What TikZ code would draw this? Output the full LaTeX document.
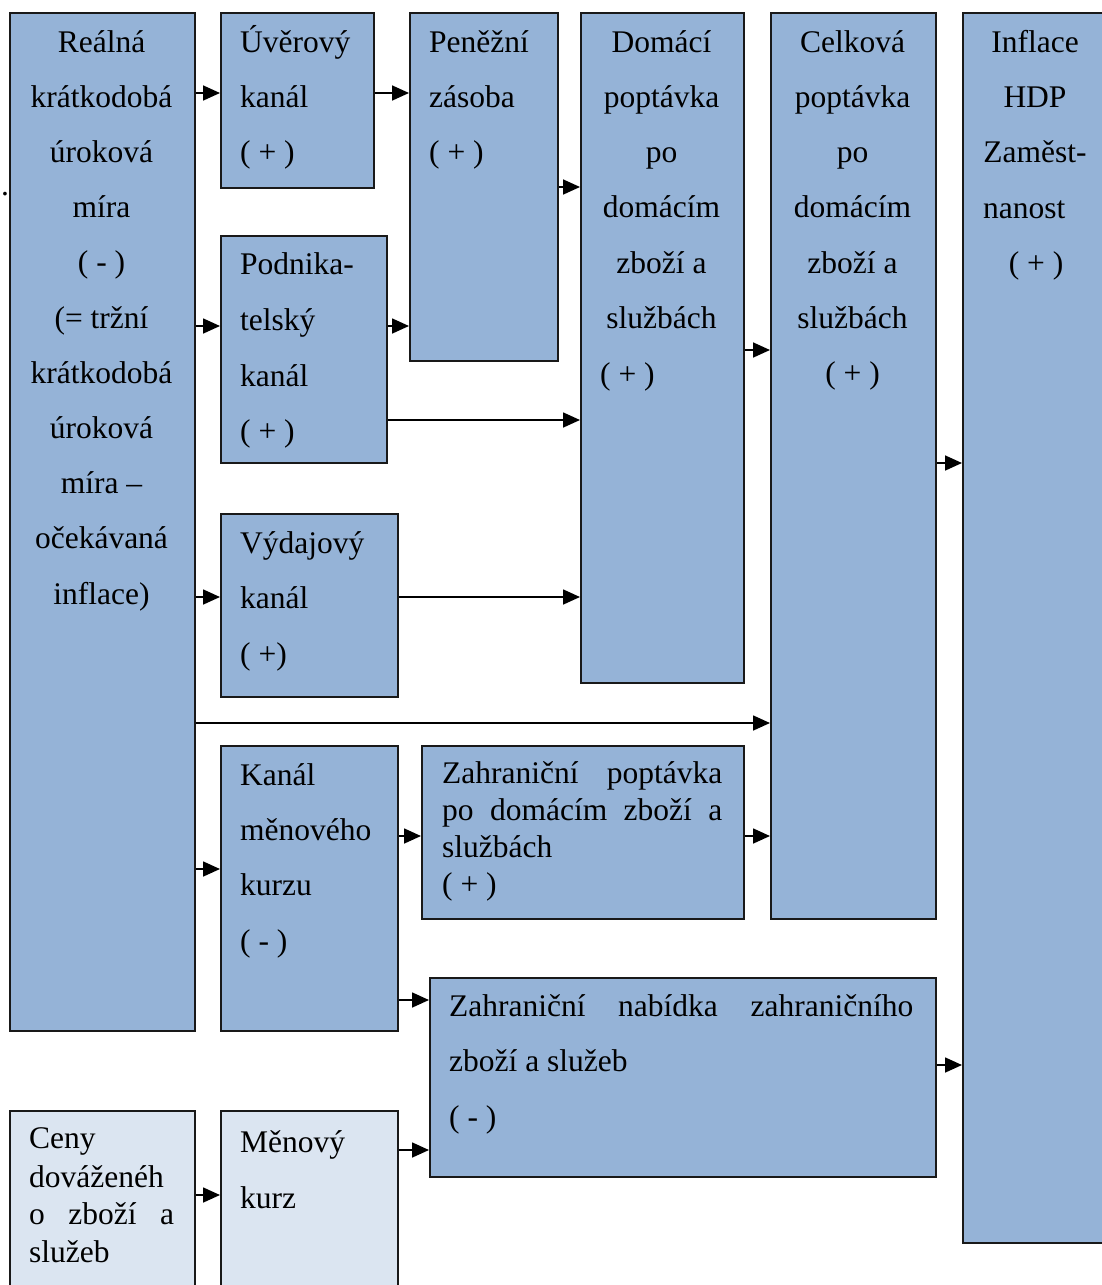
\documentclass[tikz,border=0pt]{standalone}
\usepackage{fontspec}
\setmainfont{Liberation Serif}
\usetikzlibrary{arrows.meta}
\definecolor{boxblue}{HTML}{95B3D7}
\definecolor{boxlight}{HTML}{DBE5F1}
\begin{document}
\begin{tikzpicture}[x=1pt,y=-1pt,
  box/.style={draw=black!90,line width=1.8pt,fill=boxblue,inner sep=0pt,anchor=north west,rectangle},
  lbox/.style={box,fill=boxlight},
  txt/.style={inner sep=0pt,font=\fontsize{31.5pt}{38pt}\selectfont},
  tl/.style={txt,anchor=base west},
  tc/.style={txt,anchor=base},
  conn/.style={draw=black,line width=1.7pt,-{Triangle[length=17pt,width=15pt]}}]
\useasboundingbox (0,0) rectangle (1102,1285);
\clip (0,0) rectangle (1102,1285);
% boxes
\node[box,minimum width=185pt,minimum height=1018pt] (real) at (9,12) {};
\node[box,minimum width=153pt,minimum height=175pt] (uver) at (220,12) {};
\node[box,minimum width=148pt,minimum height=348pt] (pen) at (409,12) {};
\node[box,minimum width=163pt,minimum height=670pt] (dom) at (580,12) {};
\node[box,minimum width=165pt,minimum height=906pt] (celk) at (770,12) {};
\node[box,minimum width=170pt,minimum height=1230pt] (infl) at (962,12) {};
\node[box,minimum width=166pt,minimum height=227pt] (pod) at (220,235) {};
\node[box,minimum width=177pt,minimum height=183pt] (vyd) at (220,513) {};
\node[box,minimum width=177pt,minimum height=285pt] (kan) at (220,745) {};
\node[box,minimum width=322pt,minimum height=173pt] (zpop) at (421,745) {};
\node[box,minimum width=506pt,minimum height=199pt] (znab) at (429,977) {};
\node[lbox,minimum width=185pt,minimum height=200pt] (ceny) at (9,1110) {};
\node[lbox,minimum width=177pt,minimum height=200pt] (men) at (220,1110) {};
% stray dot
\node[tc] (dot) at (5,195) {.};
% texts
\foreach \t [count=\i] in {{Reálná},{krátkodobá},{úroková},{míra},{( - )},{(= tržní},{krátkodobá},{úroková},{míra –},{očekávaná},{inflace)}}
  \node[tc] (real-\i) at (101.5,{52+55.2*(\i-1)}) {\t};
\foreach \t [count=\i] in {{Úvěrový},{kanál},{( + )}}
  \node[tl] (uver-\i) at (240,{52+55.3*(\i-1)}) {\t};
\foreach \t [count=\i] in {{Peněžní},{zásoba},{( + )}}
  \node[tl] (pen-\i) at (429,{52+55.3*(\i-1)}) {\t};
\foreach \t [count=\i] in {{Domácí},{poptávka},{po},{domácím},{zboží a},{službách}}
  \node[tc] (dom-\i) at (661.5,{52+55.3*(\i-1)}) {\t};
\node[tl] (dom-7) at (600,384) {( + )};
\foreach \t [count=\i] in {{Celková},{poptávka},{po},{domácím},{zboží a},{službách},{( + )}}
  \node[tc] (celk-\i) at (852.5,{52+55.3*(\i-1)}) {\t};
\foreach \t [count=\i] in {{Inflace},{HDP},{Zaměst-}}
  \node[tc] (infl-\i) at (1035,{52+55.3*(\i-1)}) {\t};
\node[tl] (infl-4) at (983,218) {nanost};
\node[tc] (infl-5) at (1036,273) {( + )};
\node[tl] (pod-1) at (240,274) {Podnika-};
\node[tl] (pod-2) at (240,330) {telský};
\node[tl] (pod-3) at (240,386) {kanál};
\node[tl] (pod-4) at (240,441) {( + )};
\node[tl] (vyd-1) at (240,553) {Výdajový};
\node[tl] (vyd-2) at (240,608) {kanál};
\node[tl] (vyd-3) at (240,664) {( +)};
\node[tl] (kan-1) at (240,785) {Kanál};
\node[tl] (kan-2) at (240,840) {měnového};
\node[tl] (kan-3) at (240,895) {kurzu};
\node[tl] (kan-4) at (240,951) {( - )};
\node[tl] (zpop-1) at (442,783) {\makebox[280pt][s]{Zahraniční poptávka}};
\node[tl] (zpop-2) at (442,820) {\makebox[280pt][s]{po domácím zboží a}};
\node[tl] (zpop-3) at (442,857) {službách};
\node[tl] (zpop-4) at (442,894) {( + )};
\node[tl] (znab-1) at (449,1016) {\makebox[464pt][s]{Zahraniční nabídka zahraničního}};
\node[tl] (znab-2) at (449,1071) {zboží a služeb};
\node[tl] (znab-3) at (449,1127) {( - )};
\node[tl] (ceny-1) at (29,1148) {Ceny};
\node[tl] (ceny-2) at (29,1187) {dováženéh};
\node[tl] (ceny-3) at (29,1224) {\makebox[145pt][s]{o zboží a}};
\node[tl] (ceny-4) at (29,1262) {služeb};
\node[tl] (men-1) at (240,1152) {Měnový};
\node[tl] (men-2) at (240,1208) {kurz};
% connector heights
\coordinate (h93) at (0,93);
\coordinate (h187) at (0,187);
\coordinate (h326) at (0,326);
\coordinate (h420) at (0,420);
\coordinate (h597) at (0,597);
\coordinate (h350) at (0,350);
\coordinate (h723) at (0,723);
\coordinate (h869) at (0,869);
\coordinate (h836) at (0,836);
\coordinate (h1000) at (0,1000);
\coordinate (h463) at (0,463);
\coordinate (h1065) at (0,1065);
\coordinate (h1195) at (0,1195);
\coordinate (h1150) at (0,1150);
% connectors
\draw[conn] (real.east |- h93) -- (uver.west |- h93);
\draw[conn] (uver.east |- h93) -- (pen.west |- h93);
\draw[conn] (pen.east |- h187) -- (dom.west |- h187);
\draw[conn] (real.east |- h326) -- (pod.west |- h326);
\draw[conn] (pod.east |- h326) -- (pen.west |- h326);
\draw[conn] (pod.east |- h420) -- (dom.west |- h420);
\draw[conn] (real.east |- h597) -- (vyd.west |- h597);
\draw[conn] (vyd.east |- h597) -- (dom.west |- h597);
\draw[conn] (dom.east |- h350) -- (celk.west |- h350);
\draw[conn] (real.east |- h723) -- (celk.west |- h723);
\draw[conn] (real.east |- h869) -- (kan.west |- h869);
\draw[conn] (kan.east |- h836) -- (zpop.west |- h836);
\draw[conn] (zpop.east |- h836) -- (celk.west |- h836);
\draw[conn] (kan.east |- h1000) -- (znab.west |- h1000);
\draw[conn] (celk.east |- h463) -- (infl.west |- h463);
\draw[conn] (znab.east |- h1065) -- (infl.west |- h1065);
\draw[conn] (ceny.east |- h1195) -- (men.west |- h1195);
\draw[conn] (men.east |- h1150) -- (znab.west |- h1150);
\end{tikzpicture}
\end{document}
